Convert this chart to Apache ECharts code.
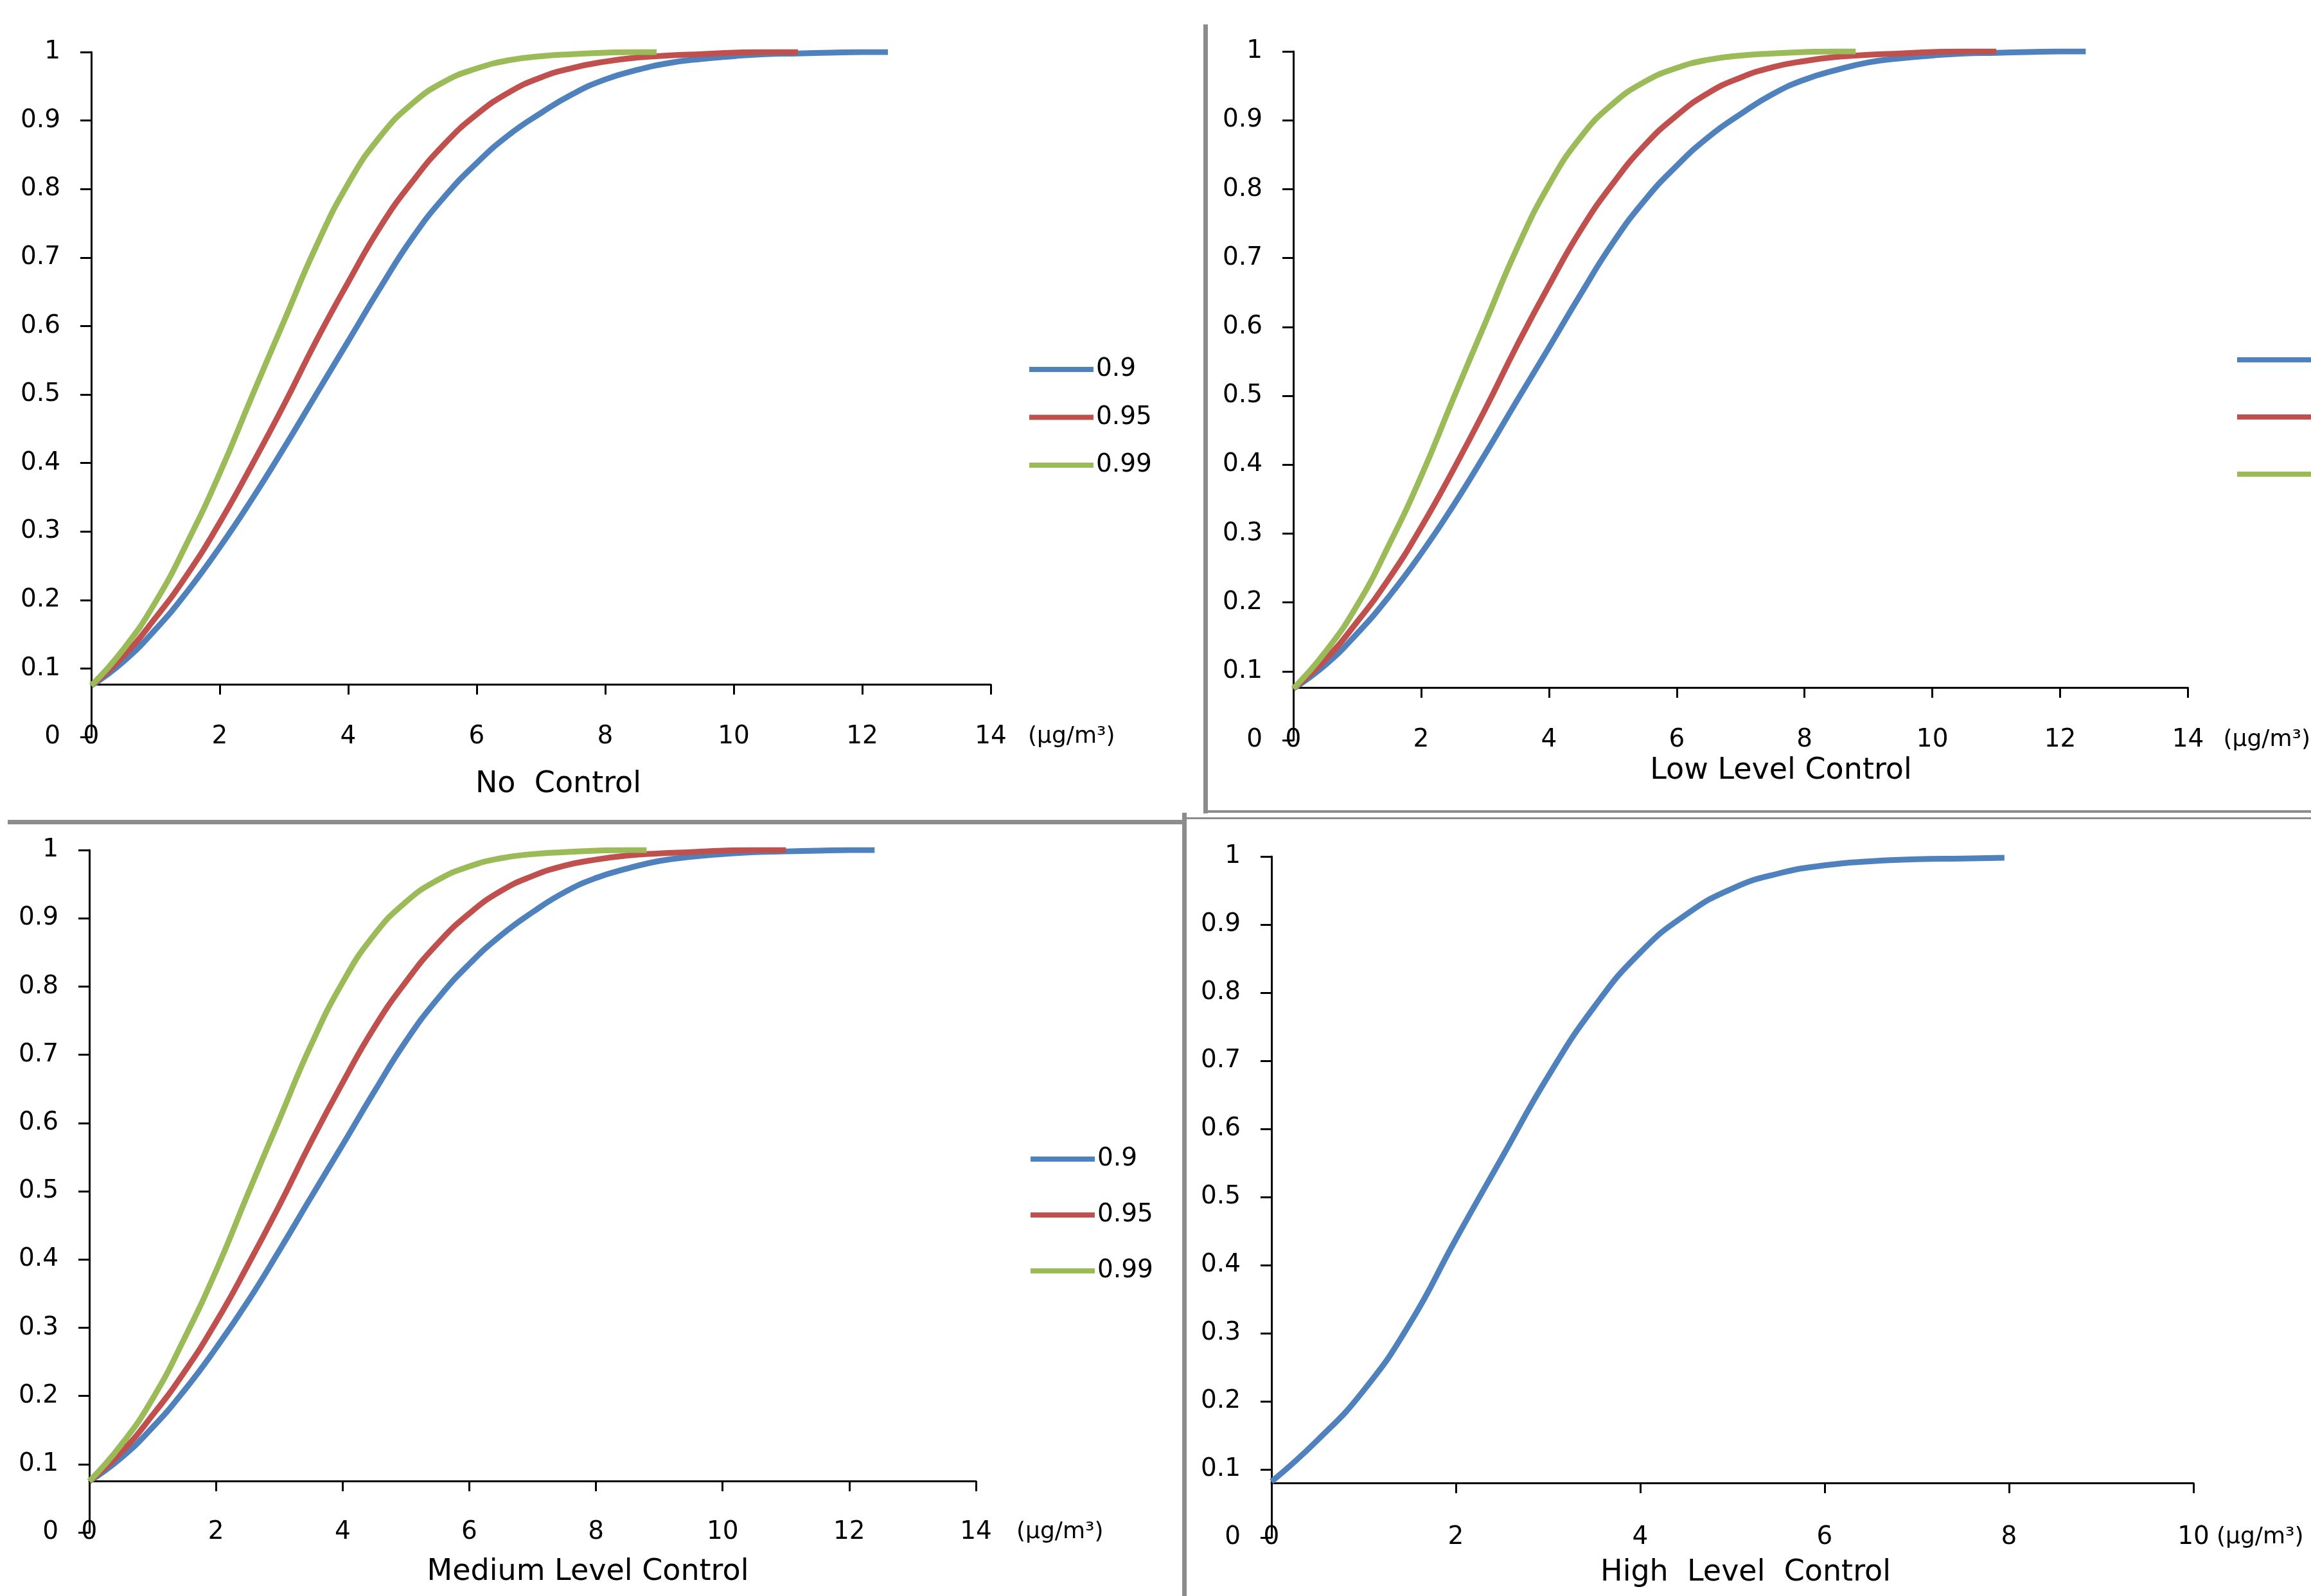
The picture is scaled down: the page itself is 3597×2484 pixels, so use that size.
<!DOCTYPE html>
<html><head><meta charset="utf-8">
<script src="https://cdn.jsdelivr.net/npm/echarts@6/dist/echarts.min.js"></script>
<style>html,body{margin:0;padding:0;background:#fff}#c{width:3597px;height:2484px}</style>
</head><body><div id="c"></div>
<script>
// ---------------- DATA ----------------
const seriesNames = ['0.9', '0.95', '0.99'];
const panelTitles = ['No  Control', 'Low Level Control', 'Medium Level Control', 'High  Level  Control'];
const unitLabel = '(µg/m³)';
const xTicksMain = [0, 2, 4, 6, 8, 10, 12, 14];
const xTicksHigh = [0, 2, 4, 6, 8, 10];

// No Control
const noX90 = [0,0.5,1,1.5,2,2.5,3,3.5,4,4.5,5,5.5,6,6.5,7,7.5,8,8.5,9,9.5,10,10.5,11,11.5,12,12.4];
const noY90 = [0.075,0.110,0.157,0.213,0.277,0.347,0.422,0.500,0.578,0.656,0.729,0.789,0.838,0.879,0.911,0.939,0.960,0.974,0.984,0.990,0.994,0.997,0.998,0.999,1.0,1.0];
const noX95 = [0,0.5,1,1.5,2,2.5,3,3.5,4,4.5,5,5.5,6,6.5,7,7.5,8,8.5,9,9.5,10,10.5,11];
const noY95 = [0.075,0.118,0.174,0.238,0.313,0.397,0.485,0.578,0.664,0.745,0.811,0.866,0.909,0.941,0.963,0.977,0.986,0.992,0.995,0.997,0.999,1.0,1.0];
const noX99 = [0,0.5,1,1.5,2,2.5,3,3.5,4,4.5,5,5.5,6,6.5,7,7.5,8,8.5,8.8];
const noY99 = [0.075,0.128,0.197,0.285,0.385,0.497,0.607,0.716,0.808,0.877,0.925,0.957,0.976,0.988,0.994,0.997,0.999,1.0,1.0];

// Low Level Control
const lowX90 = [0,0.5,1,1.5,2,2.5,3,3.5,4,4.5,5,5.5,6,6.5,7,7.5,8,8.5,9,9.5,10,10.5,11,11.5,12,12.4];
const lowY90 = [0.075,0.109,0.155,0.209,0.271,0.340,0.415,0.493,0.570,0.648,0.722,0.784,0.834,0.876,0.909,0.938,0.959,0.973,0.984,0.990,0.994,0.997,0.998,0.999,1.0,1.0];
const lowX95 = [0,0.5,1,1.5,2,2.5,3,3.5,4,4.5,5,5.5,6,6.5,7,7.5,8,8.5,9,9.5,10,10.5,11];
const lowY95 = [0.075,0.117,0.172,0.235,0.309,0.392,0.480,0.573,0.660,0.741,0.808,0.864,0.907,0.940,0.962,0.977,0.986,0.992,0.995,0.997,0.999,1.0,1.0];
const lowX99 = [0,0.5,1,1.5,2,2.5,3,3.5,4,4.5,5,5.5,6,6.5,7,7.5,8,8.5,8.8];
const lowY99 = [0.075,0.128,0.196,0.284,0.383,0.495,0.605,0.714,0.806,0.876,0.924,0.956,0.976,0.988,0.994,0.997,0.999,1.0,1.0];

// Medium Level Control
const medX90 = [0,0.5,1,1.5,2,2.5,3,3.5,4,4.5,5,5.5,6,6.5,7,7.5,8,8.5,9,9.5,10,10.5,11,11.5,12,12.4];
const medY90 = [0.075,0.109,0.154,0.208,0.270,0.338,0.413,0.491,0.568,0.646,0.720,0.782,0.833,0.875,0.909,0.938,0.959,0.973,0.984,0.990,0.994,0.997,0.998,0.999,1.0,1.0];
const medX95 = [0,0.5,1,1.5,2,2.5,3,3.5,4,4.5,5,5.5,6,6.5,7,7.5,8,8.5,9,9.5,10,10.5,11];
const medY95 = [0.075,0.117,0.172,0.235,0.308,0.391,0.479,0.572,0.659,0.740,0.807,0.863,0.907,0.940,0.962,0.977,0.986,0.992,0.995,0.997,0.999,1.0,1.0];
const medX99 = [0,0.5,1,1.5,2,2.5,3,3.5,4,4.5,5,5.5,6,6.5,7,7.5,8,8.5,8.8];
const medY99 = [0.075,0.128,0.196,0.284,0.383,0.495,0.605,0.714,0.806,0.876,0.924,0.956,0.976,0.988,0.994,0.997,0.999,1.0,1.0];

// High Level Control
const highX90 = [0,0.5,1,1.5,2,2.5,3,3.5,4,4.5,5,5.5,6,6.5,7,7.5,7.95];
const highY90 = [0.082,0.143,0.216,0.314,0.438,0.558,0.677,0.779,0.859,0.915,0.953,0.975,0.987,0.993,0.996,0.997,0.998];

// ---------------- LAYOUT / STYLE ----------------
const colors = ['#4F81BD', '#C0504D', '#9BBB59'];
const FONT = 'DejaVu Sans';
const panels = [
  { grid: {left: 142, top: 81, width: 1400, height: 1066}, xMax: 14, ticks: xTicksMain, axisOffset: -82,
    legend: {left: 1602, top: 553, gap: 30.5, itemWidth: 100}, unitGap: 58, title: [869, 1221],
    data: [[noX90, noY90], [noX95, noY95], [noX99, noY99]] },
  { grid: {left: 2013, top: 80, width: 1428, height: 1072}, xMax: 14, ticks: xTicksMain, axisOffset: -82,
    legend: {left: 3482, top: 538, gap: 45, itemWidth: 130}, unitGap: 55, title: [2772, 1200],
    data: [[lowX90, lowY90], [lowX95, lowY95], [lowX99, lowY99]] },
  { grid: {left: 139, top: 1323, width: 1380, height: 1062}, xMax: 14, ticks: xTicksMain, axisOffset: -80,
    legend: {left: 1604, top: 1782, gap: 43, itemWidth: 100}, unitGap: 63, title: [915, 2447],
    data: [[medX90, medY90], [medX95, medY95], [medX99, medY99]] },
  { grid: {left: 1979, top: 1333, width: 1435, height: 1060}, xMax: 10, ticks: xTicksHigh, axisOffset: -85,
    legend: null, unitGap: 36, title: [2717, 2448],
    data: [[highX90, highY90]] }
];

const grid = [], xAxis = [], yAxis = [], series = [], legend = [], title = [];
panels.forEach((p, i) => {
  grid.push(Object.assign({containLabel: false, show: false}, p.grid));
  const interval = p.ticks[1] - p.ticks[0];
  xAxis.push({
    type: 'value', gridIndex: i, min: p.ticks[0], max: p.xMax, interval: interval, position: 'bottom',
    offset: p.axisOffset,
    axisLine: {show: true, onZero: false, lineStyle: {color: '#000', width: 3}},
    axisTick: {show: true, inside: false, length: 16, lineStyle: {color: '#000', width: 3}},
    axisLabel: {show: false}, splitLine: {show: false}
  });
  xAxis.push({
    type: 'value', gridIndex: i, min: p.ticks[0], max: p.xMax, interval: interval, position: 'bottom',
    axisLine: {show: false, onZero: false}, axisTick: {show: false}, splitLine: {show: false},
    axisLabel: {show: true, margin: 0, verticalAlign: 'middle', color: '#000', fontFamily: FONT, fontSize: 39},
    name: unitLabel, nameLocation: 'end', nameGap: p.unitGap,
    nameTextStyle: {color: '#000', fontFamily: FONT, fontSize: 36, align: 'left', verticalAlign: 'middle'}
  });
  yAxis.push({
    type: 'value', gridIndex: i, min: 0, max: 1, interval: 0.1,
    axisLine: {show: true, onZero: false, lineStyle: {color: '#000', width: 3}},
    axisTick: {show: true, inside: false, length: 17, lineStyle: {color: '#000', width: 3}},
    axisLabel: {show: true, margin: 48, color: '#000', fontFamily: FONT, fontSize: 39},
    splitLine: {show: false}
  });
  p.data.forEach((d, k) => {
    series.push({
      name: seriesNames[k], type: 'line', xAxisIndex: i * 2, yAxisIndex: i,
      data: d[0].map((x, j) => [x, d[1][j]]),
      showSymbol: false, symbol: 'none', smooth: 0.5,
      lineStyle: {color: colors[k], width: 9}, itemStyle: {color: colors[k]},
      silent: true, animation: false
    });
  });
  if (p.legend) {
    legend.push({
      orient: 'vertical', left: p.legend.left, top: p.legend.top, padding: 0,
      itemGap: p.legend.gap, itemWidth: p.legend.itemWidth, itemHeight: 8, icon: 'rect',
      selectedMode: false, data: seriesNames,
      textStyle: {color: '#000', fontFamily: FONT, fontSize: 39, lineHeight: 44, padding: [0, 0, 0, -1]}
    });
  }
  title.push({
    text: panelTitles[i], left: p.title[0], top: p.title[1], textAlign: 'center', textVerticalAlign: 'middle',
    padding: 0, textStyle: {color: '#000', fontFamily: FONT, fontSize: 46, fontWeight: 'normal'}
  });
});

const gray = '#8C8C8C';
const graphic = [
  {type: 'rect', shape: {x: 1873, y: 38, width: 7, height: 1228}, style: {fill: gray}, silent: true},
  {type: 'rect', shape: {x: 1873, y: 1261, width: 1724, height: 4}, style: {fill: gray}, silent: true},
  {type: 'rect', shape: {x: 1840, y: 1265, width: 7, height: 1219}, style: {fill: gray}, silent: true},
  {type: 'rect', shape: {x: 1843, y: 1272, width: 1754, height: 3}, style: {fill: gray}, silent: true},
  {type: 'rect', shape: {x: 12, y: 1276, width: 1831, height: 7}, style: {fill: gray}, silent: true}
];

const chart = echarts.init(document.getElementById('c'), null, {renderer: 'canvas', devicePixelRatio: 1});
chart.setOption({
  backgroundColor: '#fff', animation: false,
  grid, xAxis, yAxis, series, legend, title, graphic
});
</script></body></html>
